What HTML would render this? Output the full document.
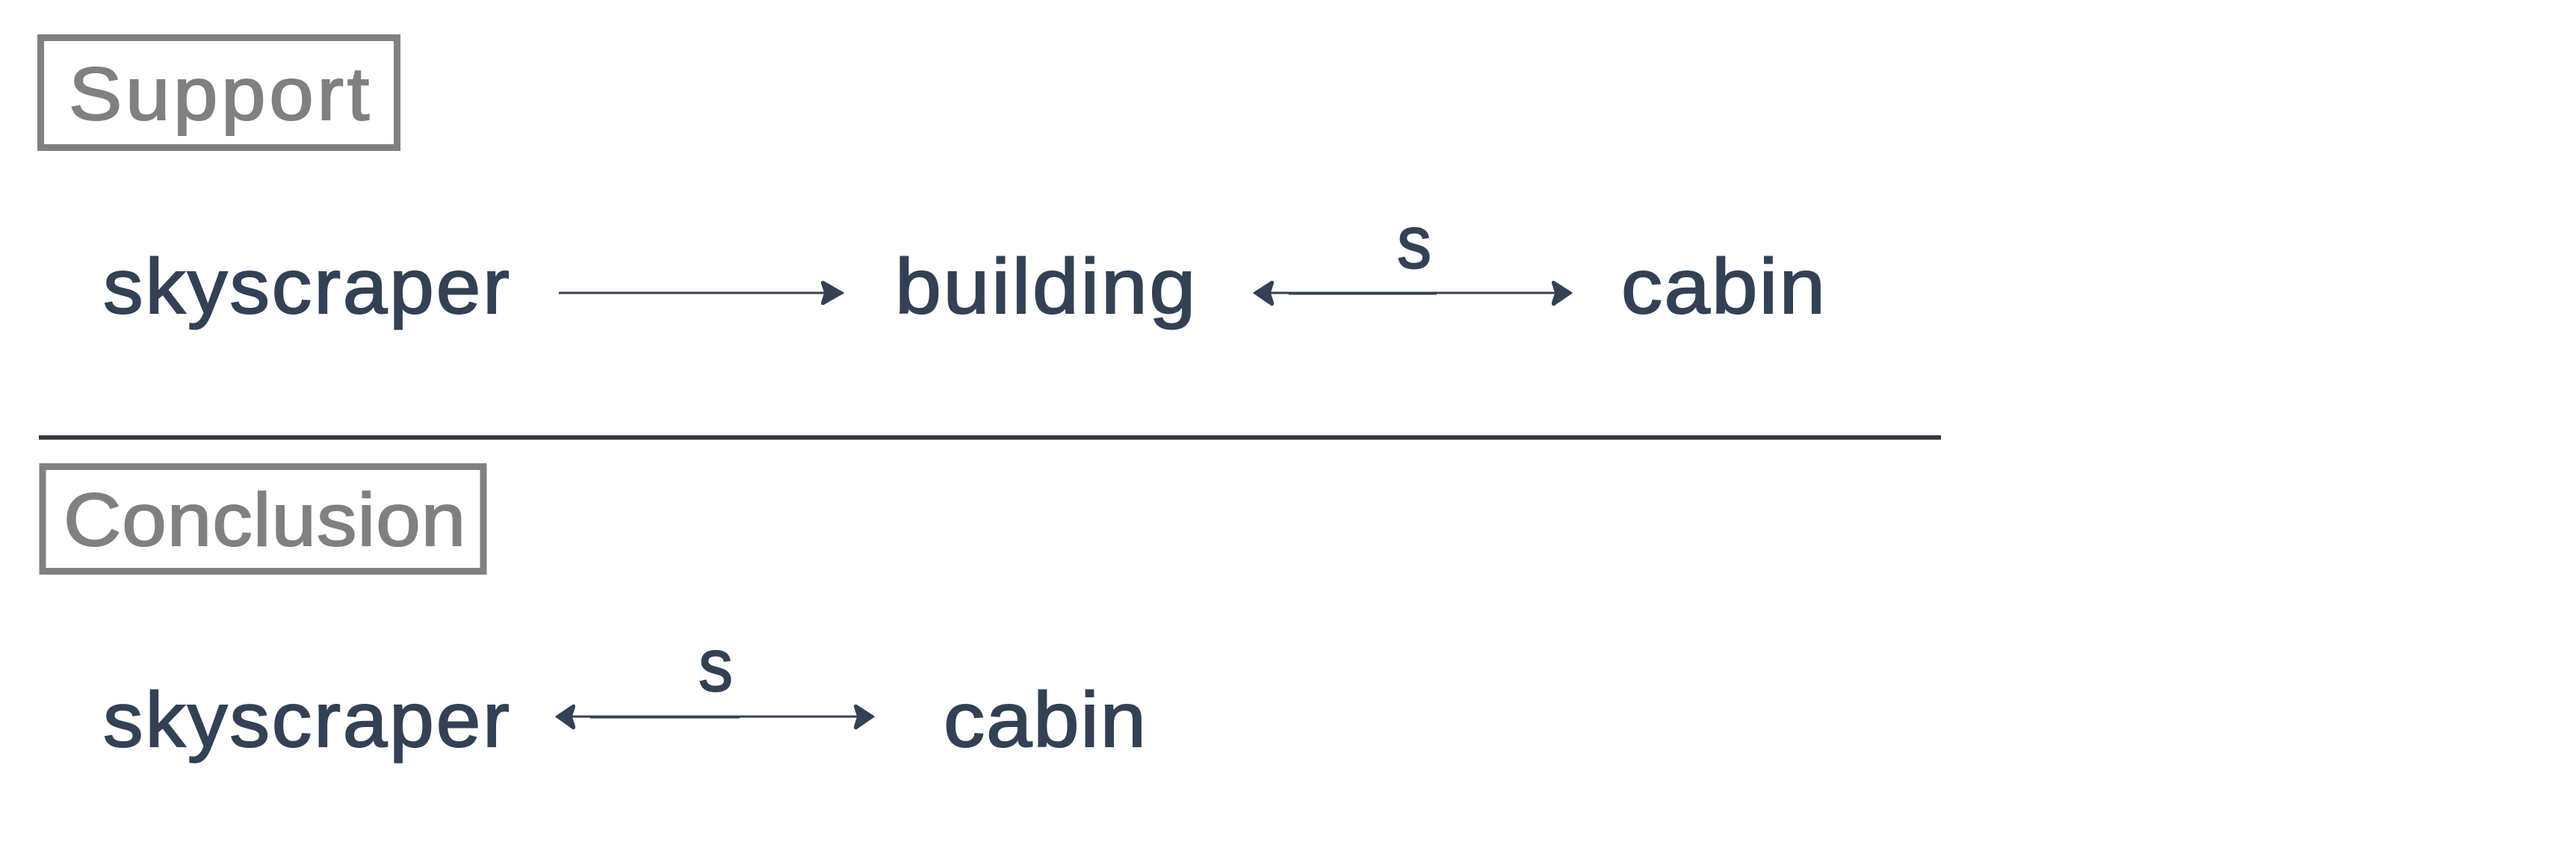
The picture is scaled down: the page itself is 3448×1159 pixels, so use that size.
<!DOCTYPE html>
<html><head><meta charset="utf-8"><style>
html,body{margin:0;padding:0;background:#fff;width:3448px;height:1159px;overflow:hidden}
svg{display:block}
text{font-family:"Liberation Sans",sans-serif}
.n{font-size:104px;fill:#334155;stroke:#334155;stroke-width:2px}
.l{font-size:100px;fill:#334155;stroke:#334155;stroke-width:2px}
.g{font-size:100px;fill:#808080;stroke:#808080;stroke-width:2px}
.h{fill:#334155;stroke:#334155;stroke-width:1.500px;stroke-linejoin:round}
</style></head><body>
<svg width="3448" height="1159" viewBox="0 0 3448 1159" xmlns="http://www.w3.org/2000/svg">
<rect width="3448" height="1159" fill="#fff"/>
<rect x="54.500" y="50.500" width="477" height="147" fill="none" stroke="#808080" stroke-width="9"/>
<text class="g" transform="translate(92,160) scale(1.07,1)" textLength="376" lengthAdjust="spacing">Support</text>
<text class="n" transform="translate(138,419) scale(1.03,1)" textLength="528" lengthAdjust="spacing">skyscraper</text>
<path d="M748 392H1122" stroke="#334155" stroke-width="3" fill="none"/>
<path class="h" d="M1129 392L1102 376.500Q1099 376 1100 380L1104 392L1100 404Q1099 408 1102 407.500Z"/>
<text class="n" transform="translate(1198,419) scale(1.07,1)" textLength="376" lengthAdjust="spacing">building</text>
<text class="l" x="1870" y="358.500" textLength="46" lengthAdjust="spacingAndGlyphs">s</text>
<path d="M1695 392H2087" stroke="#334155" stroke-width="3" fill="none"/>
<path d="M1725 392.500H1923" stroke="#334155" stroke-width="4" fill="none"/>
<path class="h" d="M1678 392L1702 376.500Q1705 376 1704 380L1700 392L1704 404Q1705 409 1702 408.500Z"/>
<path class="h" d="M2104 392L2080 376.500Q2077 376 2078 380L2082 392L2078 404Q2077 409 2080 408.500Z"/>
<text class="n" transform="translate(2170,419) scale(1.06,1)" textLength="257.500" lengthAdjust="spacing">cabin</text>
<rect x="52" y="582.500" width="2546" height="6" fill="#333844"/>
<rect x="57" y="624.500" width="590" height="140" fill="none" stroke="#808080" stroke-width="9"/>
<text class="g" transform="translate(85,730) scale(1.07,1)" textLength="503" lengthAdjust="spacing">Conclusion</text>
<text class="n" transform="translate(138,999) scale(1.03,1)" textLength="528" lengthAdjust="spacing">skyscraper</text>
<text class="l" x="935" y="924.500" textLength="46" lengthAdjust="spacingAndGlyphs">s</text>
<path d="M762 959H1152" stroke="#334155" stroke-width="3" fill="none"/>
<path d="M790 959.500H990" stroke="#334155" stroke-width="4" fill="none"/>
<path class="h" d="M744 959L767 943.500Q770 943 769 947L765 959L769 971Q770 976 767 975.500Z"/>
<path class="h" d="M1170 959L1146 943.500Q1143 943 1144 947L1148 959L1144 971Q1143 976 1146 975.500Z"/>
<text class="n" transform="translate(1263,999) scale(1.06,1)" textLength="255.600" lengthAdjust="spacing">cabin</text>
</svg>
</body></html>
